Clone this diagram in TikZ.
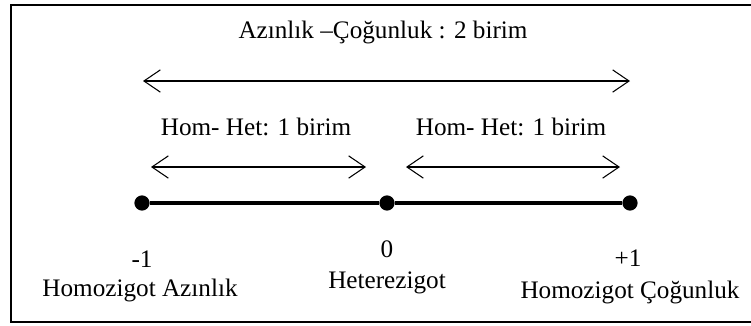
\documentclass[tikz,border=0pt]{standalone}
\usepackage{fontspec}
\setmainfont{Liberation Serif}
\usetikzlibrary{arrows.meta, positioning}
\tikzset{
    lbl/.style={font=\fontsize{21.5}{24}\selectfont, inner sep=0pt},
    pt_dot/.style={circle, fill=black, inner sep=0pt, minimum size=13pt},
    span_arrow/.style={
        {Straight Barb[length=14pt,width=19pt]}-{Straight Barb[length=14pt,width=19pt]},
        line width=0.9pt
    },
    axis_line/.style={line width=4.2pt},
    frame_line/.style={line width=1.7pt}
}

\begin{document}
\begin{tikzpicture}[x=0.03cm, y=-0.03cm]
    \useasboundingbox (0,0) rectangle (751,325);
    % Frame
    \draw[frame_line] (760,5) -| (11,322) -- (760,322);

    % Spans
    \node[lbl] (total) at (383,32) {Azınlık –Çoğunluk : 2 birim};
    \coordinate (totalL) at (143,81);
    \coordinate (totalR) at (630,81);
    \draw[span_arrow] (totalL) -- (totalR);

    \node[lbl] (hetL) at (256,127) {Hom- Het: 1 birim};
    \node[lbl] (hetR) at (511,127) {Hom- Het: 1 birim};
    \coordinate (leftA) at (151,167);
    \coordinate (leftB) at (366,167);
    \coordinate (rightA) at (406,167);
    \coordinate (rightB) at (620,167);
    \draw[span_arrow] (leftA) -- (leftB);
    \draw[span_arrow] (rightA) -- (rightB);

    % Axis
    \node[pt_dot] (minus) at (142,203) {};
    \node[pt_dot] (zero) at (387,203) {};
    \node[pt_dot] (plus) at (630,203) {};
    \draw[axis_line] (minus) -- (zero);
    \draw[axis_line] (zero) -- (plus);

    % Labels
    \node[lbl] (minusval) at (142,259) {-1};
    \node[lbl] (minustxt) at (140,290) {Homozigot Azınlık};
    \node[lbl] (zeroval) at (387,249) {0};
    \node[lbl] (zerotxt) at (387,283) {Heterezigot};
    \node[lbl] (plusval) at (628,258) {+1};
    \node[lbl] (plustxt) at (630,292) {Homozigot Çoğunluk};
\end{tikzpicture}
\end{document}
